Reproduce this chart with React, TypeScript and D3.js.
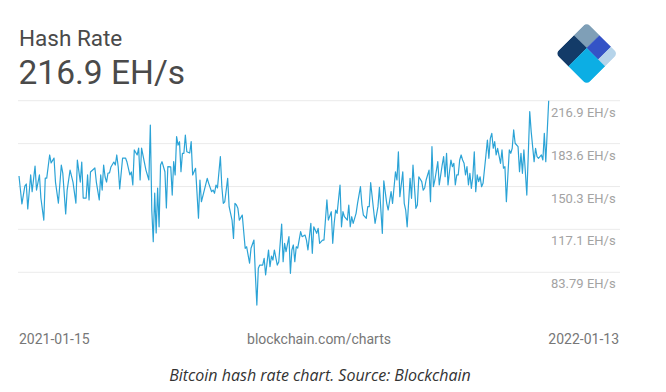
import * as React from "react";
import * as d3 from "d3";

// hash rate, EH/s (day offset from 2021-01-15)
const startDate = "2021-01-15";
const endDate = "2022-01-13";
const days = [
  0, 2, 4, 5, 6, 8, 9, 11, 12, 14, 15, 17, 18, 19, 21, 22, 24, 25, 27, 29, 30, 32, 33, 35, 37, 39, 40, 42, 43, 44,
  46, 47, 48, 49, 52, 53, 55, 56, 57, 58, 59, 60, 61, 62, 63, 65, 66, 67, 68, 69, 71, 73, 74, 76, 77, 78, 79, 81, 82, 83,
  84, 86, 87, 89, 90, 91, 92, 93, 94, 95, 96, 97, 98, 100, 101, 102, 104, 105, 106, 107, 108, 109, 110, 111, 112, 113, 114, 115, 117, 118,
  119, 121, 123, 124, 125, 127, 129, 130, 132, 133, 134, 135, 136, 138, 139, 140, 141, 143, 144, 146, 147, 148, 149, 150, 151, 153, 154, 155, 156, 158,
  159, 161, 162, 163, 164, 165, 167, 168, 169, 171, 172, 173, 174, 175, 177, 178, 180, 181, 182, 183, 185, 186, 187, 188, 189, 190, 191, 193, 194, 196,
  197, 198, 200, 201, 202, 204, 205, 206, 208, 209, 211, 212, 214, 215, 216, 217, 218, 220, 221, 222, 223, 225, 226, 227, 228, 229, 231, 232, 234, 235,
  236, 238, 239, 240, 241, 243, 244, 246, 247, 249, 250, 252, 253, 255, 256, 258, 259, 260, 261, 263, 264, 265, 266, 268, 269, 270, 272, 273, 274, 276,
  277, 278, 279, 281, 282, 283, 284, 285, 287, 288, 290, 291, 292, 293, 294, 295, 296, 297, 298, 299, 300, 301, 302, 303, 304, 305, 306, 307, 308, 309,
  310, 311, 312, 313, 314, 315, 316, 317, 318, 320, 321, 322, 323, 324, 325, 326, 327, 328, 330, 331, 332, 333, 334, 336, 337, 338, 339, 340, 342, 343,
  344, 345, 346, 347, 348, 349, 350, 351, 353, 354, 355, 356, 358, 359, 360, 361, 363,
];
const rates = [
  158.5, 136.8, 150.7, 152.3, 132.9, 159.3, 146.3, 166.2, 147.6, 159.3, 141.4, 124.3, 156.9, 156.9, 174.8, 168.6, 172.4, 153.8, 137.5, 167.0, 160.8, 129.0, 147.6, 163.1, 153.8, 137.5, 170.9, 153.8, 169.3, 141.4,
  141.4, 159.3, 139.9, 161.6, 164.7, 153.8, 139.9, 159.3, 147.6, 167.0, 157.7, 153.8, 160.8, 160.8, 165.5, 169.3, 167.0, 174.8, 165.5, 148.4, 172.4, 172.4, 169.3, 159.3, 161.6, 151.5, 178.7, 174.8, 180.2, 155.4,
  180.2, 168.6, 163.1, 155.4, 198.0, 132.1, 107.5, 145.3, 114.3, 149.2, 119.1, 167.0, 169.6, 161.8, 133.7, 165.7, 165.5, 143.7, 169.6, 159.3, 189.0, 182.5, 185.1, 161.8, 176.1, 176.1, 190.3, 177.3, 176.3, 185.1,
  159.3, 164.5, 125.7, 155.4, 138.5, 147.6, 156.7, 152.8, 146.3, 147.6, 145.1, 151.5, 149.2, 173.5, 150.2, 137.3, 138.5, 156.7, 134.7, 124.3, 110.1, 137.3, 136.0, 133.4, 124.3, 128.2, 115.3, 102.4, 103.6, 90.8,
  102.4, 108.8, 81.7, 58.4, 86.9, 89.4, 89.4, 94.6, 81.7, 101.1, 88.1, 96.4, 93.3, 101.1, 89.4, 91.8, 121.2, 92.0, 106.3, 99.8, 111.4, 83.0, 101.1, 105.0, 92.0, 103.6, 102.6, 115.3, 111.4, 112.7,
  108.8, 101.1, 121.8, 98.5, 119.1, 114.0, 117.9, 106.3, 108.8, 108.8, 139.9, 124.3, 130.8, 106.3, 121.8, 132.1, 129.5, 151.5, 119.1, 130.8, 126.9, 124.3, 136.0, 119.1, 126.9, 121.8, 129.5, 137.3, 150.2, 136.0,
  128.2, 125.7, 134.7, 134.7, 153.3, 132.1, 121.8, 134.7, 149.7, 114.0, 154.8, 137.3, 132.1, 146.3, 137.3, 161.8, 155.4, 177.3, 142.4, 161.8, 137.3, 132.1, 119.1, 156.7, 141.2, 167.0, 133.4, 136.0, 157.9, 154.1,
  147.6, 149.2, 155.4, 163.1, 138.5, 181.2, 150.2, 155.4, 169.6, 151.5, 167.0, 173.5, 157.9, 176.1, 151.5, 161.8, 170.9, 165.7, 168.3, 151.5, 159.3, 159.3, 170.9, 174.8, 170.9, 168.3, 159.3, 165.7, 151.5, 160.6,
  148.9, 157.9, 177.3, 146.3, 159.3, 154.1, 157.9, 150.2, 152.8, 174.8, 186.4, 172.2, 187.7, 191.6, 180.0, 185.1, 174.8, 180.0, 168.3, 178.7, 164.5, 165.7, 138.5, 178.7, 176.1, 180.0, 194.2, 183.9, 181.2, 161.8,
  176.1, 160.6, 178.7, 161.8, 143.7, 174.8, 208.4, 192.9, 169.6, 180.0, 173.5, 172.2, 174.8, 170.9, 191.6, 169.6, 216.9,
];
const yTicks = [216.9, 183.6, 150.3, 117.1, 83.79];
const yTickLabels = ["216.9 EH/s", "183.6 EH/s", "150.3 EH/s", "117.1 EH/s", "83.79 EH/s"];
const title = "Hash Rate";
const latest = "216.9 EH/s";
const source = "blockchain.com/charts";
const caption = "Bitcoin hash rate chart. Source: Blockchain";

const W = 666;
const H = 392;

export default function App() {
  const ref = React.useRef<SVGSVGElement>(null);

  React.useEffect(() => {
    const svg = d3.select(ref.current);
    svg.selectAll("*").remove();

    const t0 = d3.utcParse("%Y-%m-%d")(startDate)!;
    const t1 = d3.utcParse("%Y-%m-%d")(endDate)!;
    const data = days.map((d, i) => ({ date: d3.utcDay.offset(t0, d), value: rates[i] }));

    const x = d3.scaleUtc().domain([t0, t1]).range([19, 548.7]);
    const y = d3.scaleLinear().domain([83.79, 216.9]).range([272.3, 100.7]);

    svg.append("rect").attr("width", W).attr("height", H).attr("fill", "#fff");

    // header
    svg.append("text").attr("x", 19).attr("y", 46)
      .attr("font-family", "Roboto").attr("font-size", 22.5).attr("fill", "#4a4a4a")
      .text(title);
    svg.append("text").attr("x", 18.5).attr("y", 84)
      .attr("font-family", "Roboto").attr("font-size", 33.5).attr("fill", "#4a4a4a")
      .text(latest);

    // logo
    const S = 44;
    const logo = svg.append("g").attr("transform", "translate(586.7,53.5) rotate(45) translate(" + (-S / 2) + "," + (-S / 2) + ")");
    svg.append("defs").append("clipPath").attr("id", "logoClip")
      .append("rect").attr("width", S).attr("height", S).attr("rx", 4.5);
    const a = S * 0.41, b = S * 0.78;
    const parts = [
      { x: 0, y: 0, w: a, h: a, c: "#7f9fb7" },
      { x: a, y: 0, w: b - a, h: a, c: "#3453c6" },
      { x: b, y: 0, w: S - b, h: a, c: "#b6d4ea" },
      { x: 0, y: a, w: a, h: S - a, c: "#133b68" },
      { x: a, y: a, w: S - a, h: S - a, c: "#0caee4" },
    ];
    logo.append("g").attr("clip-path", "url(#logoClip)")
      .selectAll("rect").data(parts).enter().append("rect")
      .attr("x", (d) => d.x).attr("y", (d) => d.y)
      .attr("width", (d) => d.w + 0.3).attr("height", (d) => d.h + 0.3)
      .attr("fill", (d) => d.c);

    // grid + right labels
    svg.append("g").selectAll("line").data(yTicks).enter().append("line")
      .attr("x1", 18).attr("x2", 620)
      .attr("y1", (d) => y(d)).attr("y2", (d) => y(d))
      .attr("stroke", "#ebebeb").attr("stroke-width", 1);
    svg.append("g").selectAll("text").data(yTicks).enter().append("text")
      .attr("x", 551).attr("y", (d) => y(d) + 16)
      .attr("font-family", "Roboto").attr("font-size", 13).attr("fill", "#a3a3a3")
      .text((d, i) => yTickLabels[i]);

    const line = d3.line<any>()
      .x((d) => x(d.date))
      .y((d) => y(d.value));
    svg.append("path").datum(data)
      .attr("d", line)
      .attr("fill", "none").attr("stroke", "#2ba3d6").attr("stroke-width", 1.2)
      .attr("stroke-linejoin", "round");

    // footer
    svg.append("text").attr("x", 19).attr("y", 344)
      .attr("font-family", "Roboto").attr("font-size", 14).attr("fill", "#777")
      .text(d3.utcFormat("%Y-%m-%d")(t0));
    svg.append("text").attr("x", 319).attr("y", 344).attr("text-anchor", "middle")
      .attr("font-family", "Roboto").attr("font-size", 14).attr("fill", "#777")
      .text(source);
    svg.append("text").attr("x", 619).attr("y", 344).attr("text-anchor", "end")
      .attr("font-family", "Roboto").attr("font-size", 14).attr("fill", "#777")
      .text(d3.utcFormat("%Y-%m-%d")(t1));

    svg.append("text").attr("x", 320).attr("y", 381).attr("text-anchor", "middle")
      .attr("font-family", "'Open Sans'").attr("font-style", "italic").attr("font-size", 16).attr("fill", "#333")
      .text(caption);
  }, []);

  return (
    <svg ref={ref} width={W} height={H} style={{ position: "absolute", left: 0, top: 0 }} />
  );
}
